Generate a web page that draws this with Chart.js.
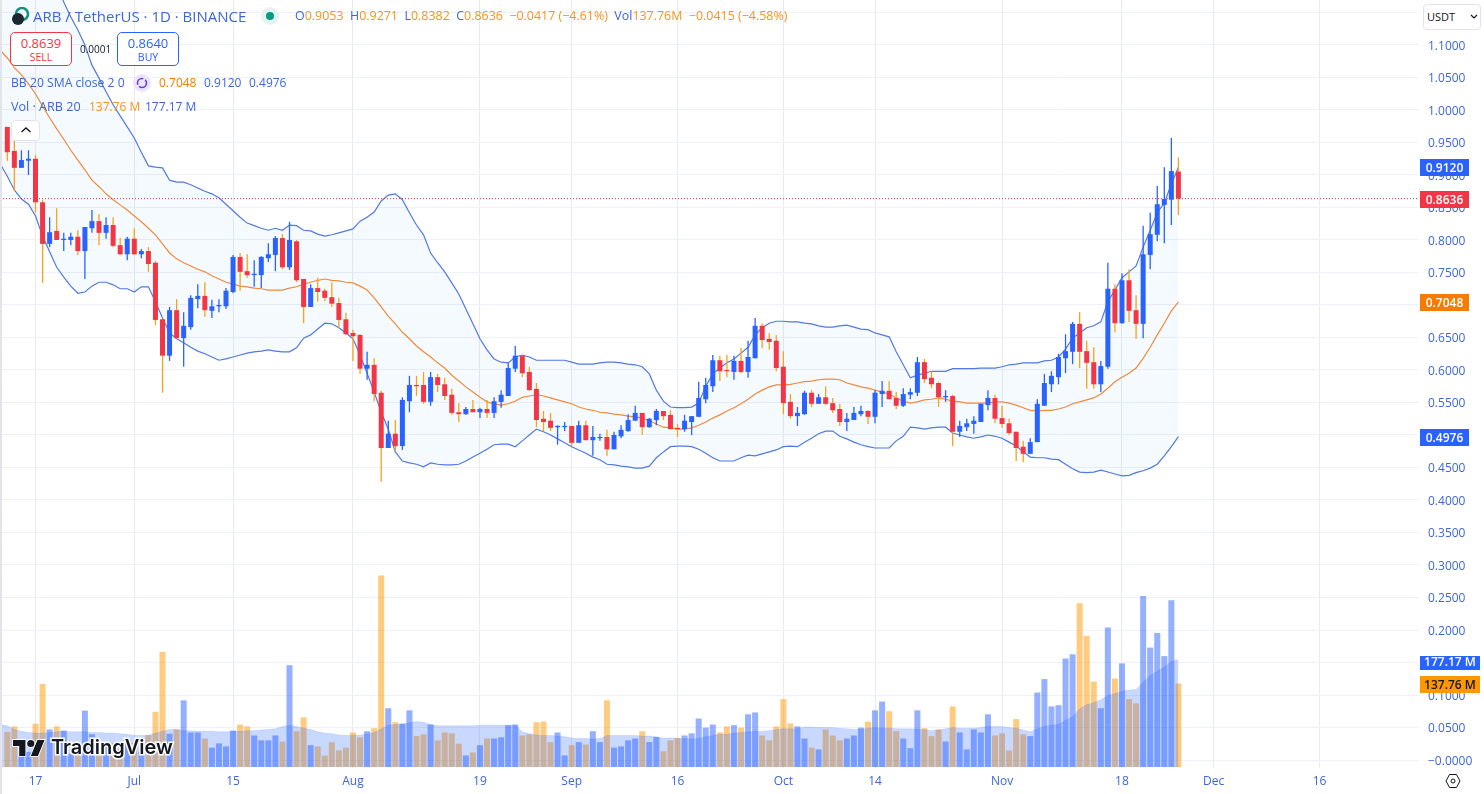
<!DOCTYPE html>
<html>
<head>
<meta charset="utf-8">
<title>ARB / TetherUS</title>
<script src="https://cdn.jsdelivr.net/npm/chart.js@4/dist/chart.umd.js"></script>
<style>
  html, body { margin: 0; padding: 0; background: #fff; overflow: hidden; }
  body { width: 1484px; height: 794px; position: relative; font-family: "Open Sans", sans-serif; color: #3d66d8; }
  canvas { display: block; position: absolute; left: 0; top: 0; }
  .t { position: absolute; white-space: nowrap; line-height: 16px; font-size: 12px; }
  .o { color: #f7931a; }
  .strip { position: absolute; left: 0; top: 0; width: 2px; height: 794px; background: #e2e4ea; }
  .trade { position: absolute; top: 32px; width: 60px; height: 32px; border: 1px solid; border-radius: 5px; text-align: center; background: #fff; }
  .trade b { display: block; font-weight: 400; font-size: 13px; line-height: 14px; margin-top: 3px; }
  .trade i { display: block; font-style: normal; font-size: 10.5px; line-height: 12px; margin-top: 1px; }
  .box { position: absolute; background: #fff; border: 1px solid #e0e3eb; border-radius: 4px; box-sizing: border-box; }
</style>
</head>
<body>
<canvas id="myChart" width="1484" height="794"></canvas>
<div class="strip"></div>

<svg style="position:absolute;left:10px;top:7px" width="20" height="20" viewBox="0 0 20 20">
  <circle cx="12" cy="7" r="6" fill="none" stroke="#12917f" stroke-width="2.5"/>
  <circle cx="8" cy="12" r="6" fill="#1c2733"/>
</svg>
<div class="t" style="left:33px;top:8px;font-size:15px">ARB / TetherUS · 1D · BINANCE</div>
<svg style="position:absolute;left:261px;top:7px" width="18" height="18"><circle cx="9" cy="9" r="9" fill="#e3f3ef"/><circle cx="9" cy="9" r="4" fill="#089981"/></svg>
<div class="t" style="left:295px;top:8px;font-size:12.45px">O<span class="o">0.9053</span>&nbsp; H<span class="o">0.9271</span>&nbsp; L<span class="o">0.8382</span>&nbsp; C<span class="o">0.8636</span>&nbsp; <span class="o">−0.0417 (−4.61%)</span>&nbsp; Vol<span class="o">137.76M</span>&nbsp; <span class="o">−0.0415 (−4.58%)</span></div>

<div class="trade" style="left:10px;border-color:#f23645;color:#f23645"><b>0.8639</b><i>SELL</i></div>
<div class="t" style="left:80px;top:41px;font-size:10px;color:#131722">0.0001</div>
<div class="trade" style="left:117px;border-color:#2962ff;color:#2962ff"><b>0.8640</b><i>BUY</i></div>

<div class="t" style="left:11px;top:75px;font-size:12.2px">BB 20 SMA close 2 0</div>
<svg style="position:absolute;left:133px;top:74px" width="18" height="18"><circle cx="9" cy="9" r="9" fill="#ece4fb"/><circle cx="9" cy="9" r="4.5" fill="none" stroke="#6a3fd8" stroke-width="1.6" stroke-dasharray="10 2"/></svg>
<div class="t o" style="left:159px;top:75px;color:#f57c00">0.7048</div>
<div class="t" style="left:204px;top:75px">0.9120</div>
<div class="t" style="left:249px;top:75px">0.4976</div>

<div class="t" style="left:11px;top:99px;font-size:12.6px">Vol · ARB 20</div>
<div class="t o" style="left:89px;top:99px">137.76 M</div>
<div class="t" style="left:145px;top:99px">177.17 M</div>

<div class="box" style="left:11px;top:120px;width:29px;height:21px"></div>
<svg style="position:absolute;left:20px;top:126px" width="12" height="8"><path d="M1.5 6 L6 2 L10.5 6" fill="none" stroke="#131722" stroke-width="1.4"/></svg>

<div class="box" style="left:1423px;top:4px;width:58px;height:26px"></div>
<div class="t" style="left:1427px;top:9px;font-size:11px;color:#131722">USDT</div>
<svg style="position:absolute;left:1470px;top:14px" width="8" height="6"><path d="M1 1 L4 4 L7 1" fill="none" stroke="#131722" stroke-width="1.2"/></svg>
<svg style="position:absolute;left:1445px;top:773px" width="16" height="16"><path d="M4.5 1.5h7L15 8l-3.5 6.5h-7L1 8z" fill="none" stroke="#131722"/><circle cx="8" cy="8" r="2" fill="none" stroke="#131722"/></svg>

<svg style="position:absolute;left:13px;top:738px;overflow:visible" width="32" height="18" viewBox="0 0 36 20">
  <g fill="#131722" stroke="#fff" stroke-width="2" paint-order="stroke">
    <path d="M14 20H7V9H0V2h14v18zM28 20h-8l7.5-18h8L28 20z"/><circle cx="20" cy="6" r="4"/>
  </g>
</svg>
<div class="t" style="left:51px;top:738px;font:600 20px/18px Inter,sans-serif;color:#131722;-webkit-text-stroke:3px #fff;paint-order:stroke fill">TradingView</div>

<script>
// daily candles, first one is Jun 13, x values are days from there
const opens = [
  .974,.937,.911,.922,.925,.858,.794,.814,.800,.800,
  .805,.783,.818,.829,.811,.823,.792,.778,.802,.778,
  .783,.765,.678,.622,.692,.649,.666,.709,.714,.691,
  .698,.698,.720,.774,.752,.746,.746,.772,.777,.803,
  .758,.798,.740,.697,.726,.722,.712,.703,.678,.657,
  .654,.602,.608,.565,.480,.502,.483,.552,.577,.577,
  .551,.589,.578,.562,.535,.532,.540,.535,.540,.534,
  .551,.560,.602,.622,.597,.571,.525,.522,.512,.512,
  .514,.488,.515,.492,.495,.497,.478,.498,.506,.522,
  .534,.512,.523,.537,.531,.511,.509,.520,.528,.555,
  .575,.615,.600,.597,.614,.597,.618,.668,.648,.645,
  .605,.551,.529,.532,.565,.548,.558,.549,.540,.520,
  .523,.532,.537,.528,.563,.568,.557,.545,.562,.565,
  .612,.588,.580,.558,.560,.505,.512,.517,.520,.546,
  .557,.526,.518,.505,.482,.471,.489,.545,.578,.589,
  .618,.628,.671,.629,.612,.578,.605,.725,.672,.738,
  .692,.671,.777,.808,.854,.862,.9053];
const highs = [
  .974,.954,.938,.938,.931,.862,.835,.849,.811,.811,
  .815,.820,.846,.840,.835,.835,.803,.805,.818,.786,
  .789,.768,.678,.697,.709,.689,.715,.732,.735,.708,
  .709,.726,.777,.780,.778,.769,.775,.795,.806,.809,
  .828,.800,.740,.732,.742,.725,.735,.711,.688,.662,
  .655,.628,.618,.568,.522,.523,.558,.591,.591,.597,
  .597,.594,.588,.571,.549,.543,.554,.542,.554,.558,
  .569,.611,.637,.623,.605,.580,.537,.534,.515,.520,
  .514,.522,.522,.514,.502,.508,.505,.515,.532,.545,
  .534,.526,.540,.537,.538,.517,.531,.529,.582,.588,
  .623,.622,.623,.622,.634,.645,.680,.672,.657,.654,
  .629,.563,.543,.568,.569,.563,.575,.557,.548,.534,
  .543,.545,.538,.569,.583,.583,.566,.572,.572,.620,
  .617,.598,.582,.569,.562,.522,.525,.529,.548,.569,
  .562,.545,.525,.505,.491,.495,.555,.594,.598,.625,
  .655,.674,.689,.645,.635,.614,.765,.732,.749,.755,
  .715,.822,.842,.883,.912,.957,.9271];
const lows = [
  .922,.875,.911,.900,.842,.734,.789,.800,.783,.792,
  .777,.740,.811,.792,.802,.789,.777,.769,.777,.772,
  .751,.669,.565,.614,.649,.605,.662,.695,.682,.680,
  .689,.694,.718,.722,.742,.728,.726,.766,.752,.755,
  .754,.735,.672,.697,.705,.706,.697,.665,.654,.614,
  .594,.585,.552,.428,.480,.477,.477,.535,.560,.548,
  .545,.566,.554,.531,.520,.531,.535,.526,.526,.526,
  .542,.560,.597,.589,.568,.512,.506,.506,.485,.506,
  .483,.488,.492,.468,.491,.468,.478,.495,.505,.522,
  .500,.511,.515,.523,.509,.497,.505,.500,.528,.549,
  .566,.583,.589,.585,.595,.588,.618,.634,.631,.598,
  .532,.525,.514,.531,.543,.548,.546,.534,.514,.506,
  .523,.529,.517,.518,.543,.555,.540,.543,.555,.560,
  .580,.572,.543,.551,.483,.497,.506,.502,.520,.538,
  .518,.511,.500,.460,.458,.471,.489,.545,.566,.578,
  .595,.609,.603,.571,.571,.566,.602,.658,.671,.674,
  .648,.649,.755,.798,.795,.823,.8382];
const closes = [
  .935,.911,.923,.925,.858,.794,.812,.800,.802,.805,
  .783,.820,.829,.811,.823,.791,.778,.802,.778,.783,
  .763,.677,.622,.692,.649,.668,.711,.714,.692,.698,
  .700,.722,.774,.751,.746,.748,.774,.778,.803,.758,
  .800,.738,.697,.726,.720,.711,.702,.677,.655,.652,
  .602,.608,.563,.480,.502,.483,.554,.577,.575,.551,
  .589,.577,.560,.534,.532,.540,.535,.540,.534,.552,
  .562,.603,.622,.595,.569,.523,.520,.511,.514,.514,
  .488,.515,.492,.497,.497,.478,.500,.508,.523,.534,
  .512,.525,.537,.529,.509,.509,.522,.529,.557,.577,
  .615,.598,.598,.614,.597,.620,.668,.646,.643,.603,
  .549,.529,.534,.565,.548,.558,.548,.538,.520,.525,
  .534,.537,.528,.565,.568,.555,.545,.563,.566,.612,
  .586,.578,.558,.560,.505,.514,.518,.522,.548,.557,
  .525,.517,.503,.480,.471,.489,.548,.580,.591,.620,
  .629,.671,.628,.611,.578,.606,.725,.672,.738,.691,
  .671,.778,.809,.855,.863,.906,.8636];
// volume in millions
const volumes = [
  58,67,25,25,71.5,137,62,67,60,22,
  20,93,54,35,35,40,30,40,40,25,
  53,91,190,55,62,110,57,57,47,32,
  39,34,60,70,67,52,44,44,52,42,
  168,59,82,36,34,19,41,27.5,32,57,
  49,59,64,316,97,74,71.5,93.5,51,54,
  70,44,57,55.5,38.5,19,24,36,47,47,
  49,69,70,52,54,74,75,41,57,19,
  36,41,37,59,41,110,32,34,44,47,
  59,41,49.5,26,44,48,52,55.5,80,65,
  70,57,67,69,65,87,90,52,44,67,
  112,72,67,47,32,29,62,52,44,47,
  52,65,75,93.5,108,92,59,47,31,93.5,
  64,51,62,42,100,57,29,62,57,87,
  52,55.5,27.5,79,54,51,123,145,100,102,
  179,186,270,216,141,97,230,146,171,112,
  105,282,197,221,183,275,137.76];

// bollinger bands and vol MA, these start one day before the candles (Jun 12)
const bbUpper = [1.423,
  1.392,1.369,1.346,1.315,1.285,1.254,1.223,1.194,1.166,1.143,
  1.123,1.100,1.069,1.049,1.028,1.008,.991,.974,.957,.935,
  .914,.912,.911,.892,.889,.889,.885,.880,.875,.871,
  .865,.855,.845,.835,.826,.822,.818,.815,.818,.815,
  .823,.822,.815,.814,.809,.806,.808,.811,.814,.817,
  .829,.835,.843,.860,.869,.871,.862,.842,.823,.808,
  .780,.765,.751,.734,.717,.694,.671,.648,.631,.617,
  .612,.611,.620,.623,.620,.615,.615,.615,.615,.615,
  .612,.609,.609,.609,.611,.612,.612,.611,.609,.608,
  .605,.594,.569,.552,.543,.542,.542,.543,.549,.575,
  .594,.603,.611,.617,.626,.635,.654,.665,.672,.675,
  .675,.674,.674,.672,.671,.668,.666,.666,.668,.669,
  .666,.663,.662,.657,.654,.651,.628,.608,.588,.592,
  .595,.598,.598,.598,.602,.602,.602,.602,.603,.603,
  .603,.605,.608,.609,.611,.611,.611,.614,.615,.620,
  .632,.649,.657,.665,.668,.674,.705,.723,.742,.751,
  .760,.789,.815,.842,.857,.886,.912];
const bbBasis = [1.092,
  1.080,1.065,1.054,1.040,1.025,1.006,.988,.971,.955,.938,
  .923,.908,.892,.882,.871,.862,.854,.846,.837,.828,
  .818,.808,.794,.780,.771,.765,.760,.755,.751,.745,
  .740,.735,.732,.729,.728,.726,.725,.723,.723,.723,
  .726,.728,.732,.735,.738,.740,.738,.737,.735,.734,
  .729,.723,.711,.697,.683,.671,.658,.648,.637,.628,
  .620,.611,.603,.592,.583,.574,.566,.558,.551,.548,
  .546,.548,.552,.558,.560,.562,.560,.557,.554,.551,
  .548,.543,.540,.538,.535,.534,.532,.531,.529,.528,
  .526,.522,.517,.512,.511,.509,.509,.511,.515,.520,
  .526,.531,.537,.542,.548,.555,.563,.569,.574,.577,
  .577,.578,.580,.582,.583,.585,.586,.586,.585,.580,
  .577,.574,.572,.569,.566,.563,.557,.552,.549,.551,
  .554,.555,.557,.555,.552,.551,.549,.549,.549,.549,
  .551,.551,.549,.546,.542,.538,.537,.538,.538,.540,
  .543,.548,.551,.554,.557,.563,.572,.582,.589,.595,
  .603,.618,.635,.654,.672,.691,.7048];
const bbLower = [.917,
  .898,.877,.863,.855,.837,.806,.782,.758,.743,.729,
  .718,.720,.729,.735,.735,.731,.725,.725,.720,.728,
  .728,.705,.680,.657,.648,.642,.635,.629,.625,.620,
  .615,.617,.620,.623,.626,.628,.629,.631,.629,.628,
  .628,.634,.649,.654,.663,.672,.671,.665,.657,.648,
  .623,.595,.566,.535,.509,.474,.460,.457,.455,.451,
  .457,.455,.454,.454,.455,.460,.466,.472,.478,.485,
  .486,.486,.482,.491,.500,.509,.505,.500,.494,.488,
  .482,.477,.472,.466,.462,.455,.454,.452,.451,.449,
  .449,.452,.465,.474,.482,.483,.483,.482,.478,.472,
  .465,.460,.460,.460,.465,.469,.468,.471,.474,.477,
  .482,.483,.482,.489,.495,.502,.506,.506,.498,.494,
  .489,.485,.482,.480,.480,.480,.491,.498,.512,.511,
  .509,.511,.512,.512,.503,.500,.497,.495,.497,.500,
  .498,.495,.489,.483,.474,.466,.465,.465,.463,.462,
  .455,.448,.443,.442,.443,.446,.443,.440,.437,.438,
  .442,.445,.449,.455,.468,.482,.4976];
const volMA = [70,
  68,62,59,57,56,56,57,58,59,58,
  58,58,57,57,56,56,55,54,52,52,
  52,56,59,62,62,60,60,59,59,59,
  58,58,59,59,60,60,61,62,63,67,
  69,67,64,62,58,56,55,53,52,52,
  53,54,57,63,69,70,71,73,75,74,
  70,68,68,68,68,68,68,69,69,69,
  69,69,69,58,55,53,52,52,51,50,
  48,47,47,46,47,52,52,52,52,52,
  51,51,50,48,48,47,47,46,47,50,
  52,54,54,56,57,58,59,59,60,62,
  63,63,63,66,66,65,65,65,64,63,
  62,62,64,65,64,64,63,63,63,62,
  62,60,61,63,65,64,64,64,65,67,
  67,67,65,64,61,58,63,67,69,70,
  77,83,96,103,106,111,118,121,125,127,
  128,140,151,158,165,174,177.17];

const tickDays = [4, 18, 32, 49, 67, 80, 95, 110, 123, 141, 158, 171, 186];
const tickLabels = ["17", "Jul", "15", "Aug", "19", "Sep", "16", "Oct", "14", "Nov", "18", "Dec", "16"];
const priceTicks = [0, .05, .1, .15, .2, .25, .3, .35, .4, .45, .5, .55, .6, .65, .7, .75, .8, .85, .9, .95, 1, 1.05, 1.1, 1.15];

const lastPrice = 0.8636;
const xMin = -1.035;
const xMax = 199.96;

const BLUE = "#2962ff";
const RED = "#f23645";
const WICK_DOWN = "#f7a21b";
const isUp = (i) => closes[i] >= opens[i];

const days = opens.map((_, i) => i);
const lineData = (arr) => arr.map((v, i) => ({ x: i - 1, y: v }));

// labels on the price scale
const valueTags = [
  { text: "0.9120", axis: "y", value: 0.912, bg: BLUE, fg: "#fff" },
  { text: "0.8636", axis: "y", value: lastPrice, bg: RED, fg: "#fff" },
  { text: "0.7048", axis: "y", value: 0.7048, bg: "#f57c00", fg: "#fff" },
  { text: "0.4976", axis: "y", value: 0.4976, bg: BLUE, fg: "#fff" },
  { text: "177.17 M", axis: "yVol", value: 177.17, bg: BLUE, fg: "#fff", wide: true, shift: 3, h: 14, textDy: 0 },
  { text: "137.76 M", axis: "yVol", value: 137.76, bg: "#ff9800", fg: "#131722", wide: true },
];

const tagPlugin = {
  id: "valueTags",
  afterDraw(chart) {
    const { ctx, chartArea } = chart;
    ctx.save();
    ctx.font = '600 12px "Open Sans"';
    ctx.textBaseline = "middle";
    ctx.textAlign = "center";
    valueTags.forEach((tag) => {
      const y = Math.round(chart.scales[tag.axis].getPixelForValue(tag.value) + (tag.shift || 0));
      const x = chartArea.right + 2;
      const w = tag.wide ? 60 : 49;
      const h = tag.h || 17;
      ctx.fillStyle = tag.bg;
      ctx.fillRect(x, y - Math.floor(h / 2), w, h);
      ctx.fillStyle = tag.fg;
      ctx.fillText(tag.text, x + w / 2, y + (tag.textDy === undefined ? 2 : tag.textDy));
    });
    ctx.restore();
  },
};

const ctx = document.getElementById("myChart");

new Chart(ctx, {
  type: "bar",
  plugins: [tagPlugin],
  data: {
    datasets: [
      {
        // candle bodies
        data: days.map((i) => ({ x: i, y: [opens[i], closes[i]] })),
        backgroundColor: days.map((i) => (isUp(i) ? BLUE : RED)),
        barThickness: 5,
        minBarLength: 1,
        grouped: false,
        inflateAmount: 0,
        order: 1,
      },
      {
        // wicks
        data: days.map((i) => ({ x: i, y: [lows[i], highs[i]] })),
        backgroundColor: days.map((i) => (isUp(i) ? BLUE : WICK_DOWN)),
        barThickness: 1.3,
        grouped: false,
        inflateAmount: 0,
        order: 2,
      },
      {
        type: "line",
        data: [{ x: xMin, y: lastPrice }, { x: xMax, y: lastPrice }],
        borderColor: "#c2384f",
        borderWidth: 1,
        borderDash: [1, 2],
        pointRadius: 0,
        order: 3,
      },
      {
        type: "line",
        data: lineData(bbBasis),
        borderColor: "#f08a3c",
        borderWidth: 1.2,
        pointRadius: 0,
        order: 4,
      },
      {
        type: "line",
        data: lineData(bbUpper),
        borderColor: "#5379e0",
        borderWidth: 1.2,
        pointRadius: 0,
        fill: "+1",
        backgroundColor: "rgba(33, 150, 243, 0.05)",
        order: 5,
      },
      {
        type: "line",
        data: lineData(bbLower),
        borderColor: "#5379e0",
        borderWidth: 1.2,
        pointRadius: 0,
        order: 5,
      },
      {
        // vol MA area
        type: "line",
        yAxisID: "yVol",
        data: lineData(volMA),
        borderColor: "rgba(41, 98, 255, 0.12)",
        borderWidth: 1,
        pointRadius: 0,
        fill: "origin",
        backgroundColor: "rgba(41, 98, 255, 0.25)",
        order: 6,
      },
      {
        // volume bars
        yAxisID: "yVol",
        data: days.map((i) => ({ x: i, y: volumes[i] })),
        backgroundColor: days.map((i) => (isUp(i) ? "rgba(41, 98, 255, 0.5)" : "rgba(255, 152, 0, 0.5)")),
        barThickness: 6,
        grouped: false,
        inflateAmount: 0,
        order: 7,
      },
    ],
  },
  options: {
    responsive: false,
    animation: false,
    events: [],
    layout: { padding: 0 },
    plugins: { legend: { display: false }, tooltip: { enabled: false } },
    scales: {
      x: {
        type: "linear",
        offset: false,
        min: xMin,
        max: xMax,
        border: { display: false },
        grid: { color: "#e6eaf3", drawTicks: false, offset: false },
        afterBuildTicks: (scale) => {
          scale.ticks = tickDays.map((v) => ({ value: v }));
        },
        afterFit: (scale) => {
          scale.height = 26;
          scale.paddingLeft = 0;
          scale.paddingRight = 0;
        },
        ticks: {
          autoSkip: false,
          maxRotation: 0,
          padding: 6,
          color: "#3d66d8",
          font: { family: "Open Sans", size: 12 },
          callback: (value, index) => tickLabels[index],
        },
      },
      y: {
        position: "right",
        min: -0.0123,
        max: 1.1692,
        border: { display: false },
        grid: { color: "#eef1f7", drawTicks: false },
        afterBuildTicks: (scale) => {
          scale.ticks = priceTicks.map((v) => ({ value: v }));
        },
        afterFit: (scale) => {
          scale.width = 66;
          scale.paddingTop = 0;
          scale.paddingBottom = 0;
        },
        ticks: {
          padding: 10,
          labelOffset: 1.5,
          color: "#3d66d8",
          font: { family: "Open Sans", size: 12 },
          callback: (value) => (value === 0 ? "−0.0000" : value.toFixed(4)),
        },
      },
      yVol: {
        display: false,
        position: "right",
        min: -1.65,
        max: 1265.55,
      },
    },
  },
});
</script>
</body>
</html>
